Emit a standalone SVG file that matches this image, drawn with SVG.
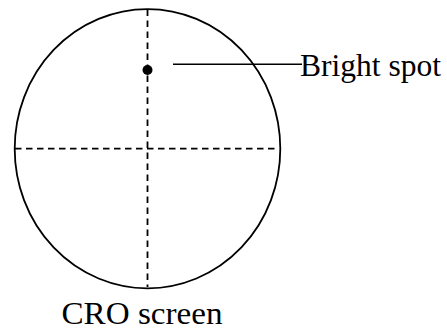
<svg xmlns="http://www.w3.org/2000/svg" width="447" height="331" viewBox="0 0 447 331">
<style>
.outline{fill:none;stroke:#000;stroke-width:1.8}
.dash{fill:none;stroke:#000;stroke-width:1.8;stroke-dasharray:6.5 4.5}
.line{fill:none;stroke:#000;stroke-width:1.6}
.label{font-family:"Liberation Serif","Times New Roman",serif;font-size:31px;fill:#000}
</style>
<rect width="447" height="331" fill="#fff"/>
<g id="screen">
<ellipse class="outline" cx="147.5" cy="148.7" rx="132.8" ry="139.6"/>
<line class="dash" x1="15" y1="148.7" x2="279" y2="148.7"/>
<line class="dash" x1="147.5" y1="9.5" x2="147.5" y2="287"/>
</g>
<g id="spot">
<circle cx="147.5" cy="70" r="5"/>
</g>
<g id="connectors">
<line class="line" x1="173" y1="64.3" x2="302" y2="64.3"/>
</g>
<g id="label-bright">
<text class="label" x="300" y="75.7" textLength="141" lengthAdjust="spacingAndGlyphs">Bright spot</text>
</g>
<g id="label-cro">
<text class="label" x="61.5" y="324" textLength="161" lengthAdjust="spacingAndGlyphs">CRO screen</text>
</g>
</svg>
